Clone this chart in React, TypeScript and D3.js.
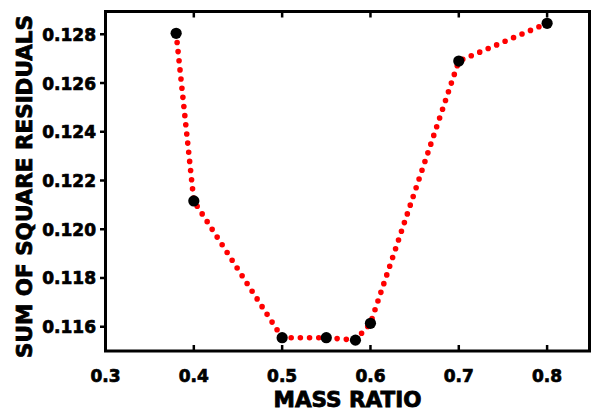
import React from "react";
import * as d3 from "d3";

const massRatio = [0.38, 0.4, 0.5, 0.55, 0.583, 0.6, 0.7, 0.8];
const residuals = [0.12804, 0.12116, 0.11555, 0.11555, 0.11545, 0.11614, 0.1269, 0.12845];
const xTicks = [0.3, 0.4, 0.5, 0.6, 0.7, 0.8];
const yTicks = [0.116, 0.118, 0.12, 0.122, 0.124, 0.126, 0.128];
const xTitle = "MASS RATIO";
const yTitle = "SUM OF SQUARE RESIDUALS";

const W = 591;
const H = 412;
const left = 105.5;
const right = 589.5;
const top = 11.5;
const bottom = 351;
const FONT = "'DejaVu Sans', sans-serif";

export default function App() {
  const x = d3.scaleLinear().domain([0.3, 0.848]).range([left, right]);
  const y = d3.scaleLinear().domain([0.115, 0.129]).range([351.1, 9.9]);
  const pts = massRatio.map((m, i) => [x(m), y(residuals[i])] as [number, number]);
  const line = d3.line()(pts) || "";

  return (
    <svg
      width={W}
      height={H}
      style={{ position: "absolute", left: 0, top: 0, background: "#fff" }}
    >
      <rect x={0} y={0} width={W} height={H} fill="#fff" />
      <path
        d={line}
        fill="none"
        stroke="#ff0000"
        strokeWidth={5.6}
        strokeLinecap="round"
        strokeDasharray="0 9.2"
      />
      {pts.map((p, i) => (
        <circle key={i} cx={p[0]} cy={p[1]} r={5.6} fill="#000" />
      ))}
      <rect
        x={left}
        y={top}
        width={right - left}
        height={bottom - top}
        fill="none"
        stroke="#000"
        strokeWidth={3}
      />
      {xTicks.map((t) => (
        <g key={"xt" + t}>
          <line x1={x(t)} x2={x(t)} y1={bottom} y2={bottom - 6} stroke="#000" strokeWidth={2.5} />
          <line x1={x(t)} x2={x(t)} y1={top} y2={top + 6} stroke="#000" strokeWidth={2.5} />
          <text
            x={x(t)}
            y={382}
            textAnchor="middle"
            fontFamily={FONT}
            fontWeight="bold"
            fontSize={17}
            fill="#000"
            stroke="#000"
            strokeWidth={0.7}
          >
            {d3.format(".1f")(t)}
          </text>
        </g>
      ))}
      {yTicks.map((t) => (
        <g key={"yt" + t}>
          <line x1={left} x2={left - 5.5} y1={y(t)} y2={y(t)} stroke="#000" strokeWidth={2.5} />
          <text
            x={96}
            y={y(t) + 6.5}
            textAnchor="end"
            fontFamily={FONT}
            fontWeight="bold"
            fontSize={17}
            fill="#000"
            stroke="#000"
            strokeWidth={0.7}
          >
            {d3.format(".3f")(t)}
          </text>
        </g>
      ))}
      <text
        x={(left + right) / 2}
        y={406.7}
        textAnchor="middle"
        fontFamily={FONT}
        fontWeight="bold"
        fontSize={20.6}
        textLength={148}
        lengthAdjust="spacingAndGlyphs"
        fill="#000"
        stroke="#000"
        strokeWidth={0.8}
      >
        {xTitle}
      </text>
      <text
        transform={`translate(31.7, 186.5) rotate(-90)`}
        x={0}
        y={0}
        textAnchor="middle"
        fontFamily={FONT}
        fontWeight="bold"
        fontSize={20.6}
        textLength={343}
        lengthAdjust="spacingAndGlyphs"
        fill="#000"
        stroke="#000"
        strokeWidth={0.8}
      >
        {yTitle}
      </text>
    </svg>
  );
}
